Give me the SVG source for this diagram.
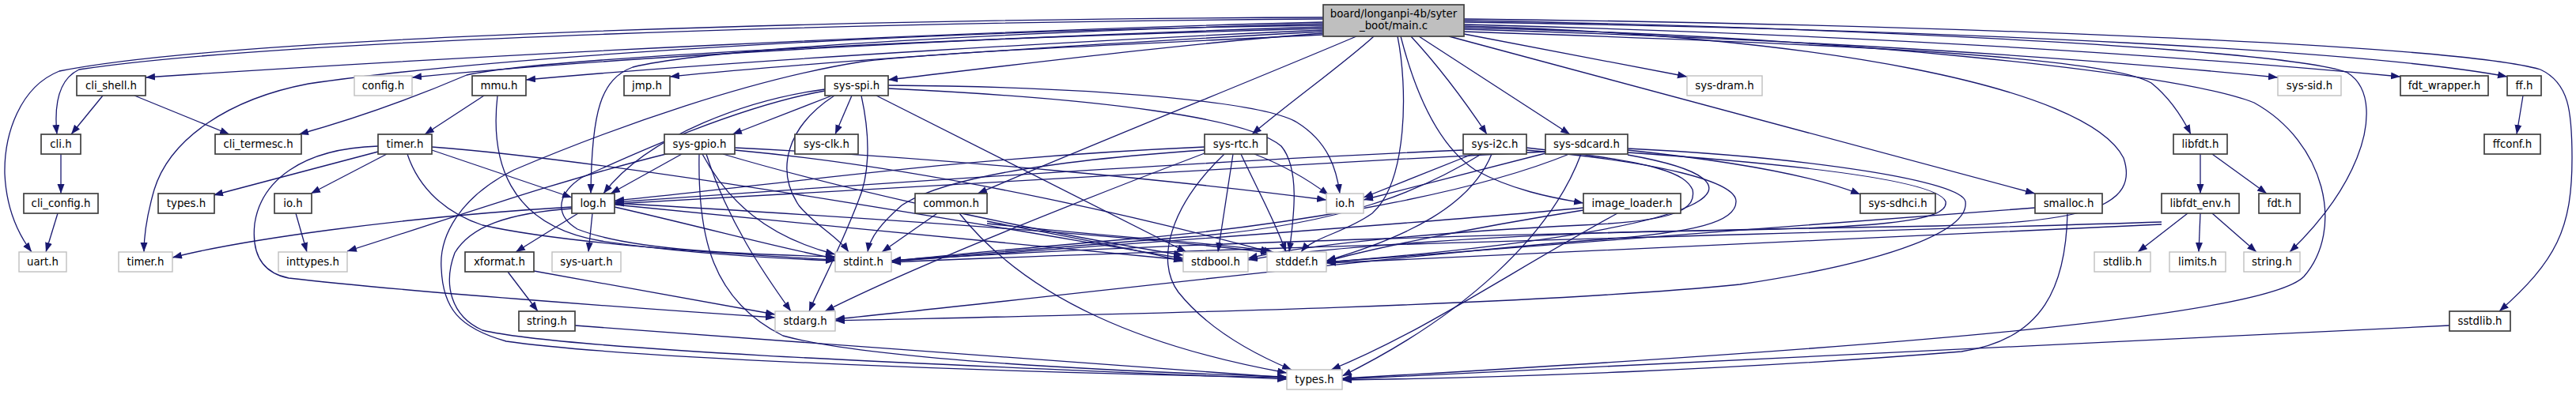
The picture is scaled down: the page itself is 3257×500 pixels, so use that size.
<svg xmlns="http://www.w3.org/2000/svg" width="3257" height="500" viewBox="0 0 3257 500">
<style>
.n rect{fill:#fff;stroke:#404040;stroke-width:1.7}
.g rect{fill:#fff;stroke:#bfbfbf;stroke-width:1.4}
.m rect{fill:#bfbfbf;stroke:#404040;stroke-width:1.7}
text{font-family:"DejaVu Sans",sans-serif;font-size:13.33px;text-anchor:middle;fill:#000}
#edges path{fill:none;stroke:#191970;stroke-width:1.3;marker-end:url(#a)}
</style>
<defs>
<marker id="a" markerUnits="userSpaceOnUse" markerWidth="13" markerHeight="10" refX="12" refY="4.5" orient="auto"><path d="M0,0 L12,4.5 L0,9 z" fill="#191970"/></marker>
</defs>
<rect width="3257" height="500" fill="#fff"/>
<g id="edges">
<path d="M1673,22 C1100,24 300,45 75,90 C25,110 5,170 6,220 C8,265 22,295 40,319"/>
<path d="M1673,24 C1100,28 350,50 100,88 C75,100 68,130 72,170"/>
<path d="M1673,28 C1200,40 600,70 184,98"/>
<path d="M1673,32 C1100,40 600,75 390,106 C290,125 215,175 195,240 C185,275 182,300 182,319"/>
<path d="M1673,34 C1300,45 800,70 521,98"/>
<path d="M1673,36 C1300,46 700,70 590,95 C520,125 450,150 378,170"/>
<path d="M1673,38 C1400,50 950,75 665,101"/>
<path d="M1673,40 C1450,52 1100,72 847,97"/>
<path d="M1673,30 C1300,40 900,60 800,85 C760,100 748,140 747,245"/>
<path d="M1673,42 C1500,55 1300,80 1123,101"/>
<path d="M1673,44 C1450,55 1200,65 1090,78 C950,100 780,160 650,215 C580,250 555,300 558,340 C560,390 580,415 640,432 C800,455 1300,472 1627,478"/>
<path d="M1715,46 C1600,95 1400,175 1236,245"/>
<path d="M1737,46 C1700,80 1630,130 1583,170"/>
<path d="M1767,46 C1780,110 1780,230 1735,270 C1700,295 1660,300 1645,319"/>
<path d="M1771,46 C1790,120 1820,185 1865,215 C1910,240 1960,250 2002,257"/>
<path d="M1784,46 C1820,85 1850,125 1880,170"/>
<path d="M1794,46 L1985,170"/>
<path d="M1832,46 L2573,245"/>
<path d="M1851,43 L2133,97"/>
<path d="M1851,40 C2300,55 2660,70 2720,105 C2745,125 2760,150 2770,170"/>
<path d="M1851,37 C2300,50 2650,75 2880,98"/>
<path d="M1851,35 C2300,45 2750,90 2850,130 C2940,180 2965,290 2913,350 C2860,405 2300,445 1697,479"/>
<path d="M1851,31 C2400,45 2800,75 3035,97"/>
<path d="M1851,28 C2500,38 3000,65 3170,97"/>
<path d="M1851,26 C2400,36 2900,65 2968,92 C3000,112 2996,160 2980,200 C2960,250 2925,290 2895,319"/>
<path d="M1851,24 C2400,30 3100,55 3212,88 C3248,105 3252,140 3252,200 C3252,290 3232,330 3160,394"/>
<path d="M1851,33 C2300,45 2640,110 2685,200 C2705,260 2640,282 2450,286 C2100,292 1500,305 1127,330"/>
<path d="M130,121 L90,170"/>
<path d="M170,121 L290,170"/>
<path d="M77,195 L77,245"/>
<path d="M73,270 L58,319"/>
<path d="M612,121 L537,170"/>
<path d="M629,121 C620,200 640,285 760,305 C860,320 980,327 1056,330"/>
<path d="M478,192 L270,247"/>
<path d="M489,195 L393,245"/>
<path d="M546,190 L723,250"/>
<path d="M478,185 C380,188 330,230 322,283 C318,320 330,345 365,352 C500,368 800,390 980,402"/>
<path d="M515,195 C530,240 565,270 610,285 C720,310 950,323 1056,329"/>
<path d="M546,186 C800,205 1300,295 1496,327"/>
<path d="M1052,121 L926,170"/>
<path d="M1077,121 L1056,170"/>
<path d="M1043,113 C950,125 820,170 763,245"/>
<path d="M1055,121 C995,160 980,215 1010,260 C1030,285 1060,300 1073,319"/>
<path d="M1089,121 C1102,180 1098,225 1085,255 C1060,320 1035,365 1023,394"/>
<path d="M1108,121 L1500,319"/>
<path d="M1123,112 C1400,125 1580,150 1620,185 C1645,215 1635,280 1630,319"/>
<path d="M1123,108 C1400,110 1600,130 1640,155 C1680,180 1690,215 1694,245"/>
<path d="M1043,115 C930,135 790,200 735,225 C705,245 700,272 730,290 C800,318 950,322 1056,325"/>
<path d="M862,195 L772,245"/>
<path d="M846,194 C700,230 560,280 439,318"/>
<path d="M888,195 C920,255 970,300 1056,322"/>
<path d="M893,195 C920,280 965,345 1000,394"/>
<path d="M884,195 C882,300 900,380 990,425 C1100,455 1400,470 1627,477"/>
<path d="M914,195 C1100,250 1350,300 1496,323"/>
<path d="M929,190 C1200,215 1480,285 1606,319"/>
<path d="M929,187 C1200,200 1500,230 1677,253"/>
<path d="M1523,186 C1200,200 950,238 777,254"/>
<path d="M1523,190 C1300,205 1185,230 1140,260 C1115,282 1100,300 1097,319"/>
<path d="M1559,195 L1540,319"/>
<path d="M1569,195 C1590,240 1612,280 1626,319"/>
<path d="M1586,195 C1625,210 1655,228 1680,247"/>
<path d="M1548,195 C1480,260 1460,330 1490,370 C1530,420 1590,450 1633,468"/>
<path d="M1523,194 C1350,260 1150,340 1043,394"/>
<path d="M1862,195 L1724,250"/>
<path d="M1873,195 C1800,240 1700,285 1500,300 C1300,315 1180,325 1127,330"/>
<path d="M1886,195 C1860,260 1780,300 1677,330"/>
<path d="M1850,190 C1500,205 1000,240 777,256"/>
<path d="M1930,187 C2100,205 2130,220 2140,240 C2145,265 2120,280 2000,285 C1800,295 1650,310 1578,327"/>
<path d="M1930,190 C2100,205 2195,230 2195,255 C2195,280 2150,295 2000,305 C1700,330 1300,380 1056,404"/>
<path d="M2058,190 C2200,205 2300,225 2352,246"/>
<path d="M1954,194 L1724,253"/>
<path d="M1954,192 C1500,215 1000,243 777,258"/>
<path d="M1984,195 C1850,250 1600,290 1400,305 C1250,318 1160,326 1127,331"/>
<path d="M1999,195 C1960,300 1850,400 1697,476"/>
<path d="M2058,193 C2300,210 2450,230 2460,255 C2465,280 2380,290 2100,293 C1900,297 1650,315 1578,329"/>
<path d="M2058,188 C2300,200 2480,230 2485,255 C2490,290 2400,330 2200,360 C1900,390 1300,400 1056,406"/>
<path d="M2058,196 C2250,230 2200,290 1677,332"/>
<path d="M2045,270 C1900,350 1800,420 1683,468"/>
<path d="M2002,263 C1800,283 1400,310 1127,331"/>
<path d="M2002,266 C1850,290 1720,318 1677,331"/>
<path d="M2614,270 C2612,360 2585,430 2480,445 C2200,468 1900,478 1697,481"/>
<path d="M2573,263 C2300,285 1900,312 1677,332"/>
<path d="M2782,195 L2782,245"/>
<path d="M2797,195 L2866,245"/>
<path d="M2766,270 L2703,319"/>
<path d="M2782,270 L2780,319"/>
<path d="M2797,270 L2853,319"/>
<path d="M2733,281 C2300,295 1500,315 1127,332"/>
<path d="M2733,284 C2400,300 1900,322 1677,333"/>
<path d="M3190,121 L3182,170"/>
<path d="M642,344 L680,394"/>
<path d="M675,343 L980,398"/>
<path d="M727,412 C1000,432 1400,462 1627,478"/>
<path d="M374,270 L388,319"/>
<path d="M723,262 C500,275 300,305 218,326"/>
<path d="M731,270 L652,319"/>
<path d="M749,270 L744,319"/>
<path d="M777,262 C900,290 1000,318 1056,327"/>
<path d="M777,259 C1000,282 1300,310 1496,329"/>
<path d="M777,257 C1100,276 1450,300 1606,320"/>
<path d="M723,264 C640,270 595,287 575,320 C560,360 570,400 610,418 C720,445 1300,466 1627,480"/>
<path d="M1185,270 L1115,319"/>
<path d="M1213,270 C1300,380 1450,440 1627,472"/>
<path d="M1248,280 C1350,300 1450,318 1496,331"/>
<path d="M1248,283 C1400,300 1550,308 1610,319"/>
<path d="M3097,412 C2700,430 2200,456 1697,480"/>
</g>
<g id="n_main" class="m"><rect x="1673" y="6" width="178" height="40"/><text x="1762" y="22">board/longanpi-4b/syter</text><text x="1762" y="37">_boot/main.c</text></g>
<g id="n_cli_shell" class="n"><rect x="97" y="96" width="87" height="25"/><text x="140.5" y="113">cli_shell.h</text></g>
<g id="n_config" class="g"><rect x="448" y="96" width="73" height="25"/><text x="484.5" y="113">config.h</text></g>
<g id="n_mmu" class="n"><rect x="597" y="96" width="68" height="25"/><text x="631" y="113">mmu.h</text></g>
<g id="n_jmp" class="n"><rect x="789" y="96" width="58" height="25"/><text x="818" y="113">jmp.h</text></g>
<g id="n_sys_spi" class="n"><rect x="1043" y="96" width="80" height="25"/><text x="1083" y="113">sys-spi.h</text></g>
<g id="n_sys_dram" class="g"><rect x="2133" y="96" width="95" height="25"/><text x="2180.5" y="113">sys-dram.h</text></g>
<g id="n_sys_sid" class="g"><rect x="2880" y="96" width="80" height="25"/><text x="2920" y="113">sys-sid.h</text></g>
<g id="n_fdt_wrapper" class="n"><rect x="3035" y="96" width="111" height="25"/><text x="3090.5" y="113">fdt_wrapper.h</text></g>
<g id="n_ff" class="n"><rect x="3170" y="96" width="43" height="25"/><text x="3191.5" y="113">ff.h</text></g>
<g id="n_cli" class="n"><rect x="52" y="170" width="50" height="25"/><text x="77" y="187">cli.h</text></g>
<g id="n_cli_termesc" class="n"><rect x="272" y="170" width="109" height="25"/><text x="326.5" y="187">cli_termesc.h</text></g>
<g id="n_timer" class="n"><rect x="478" y="170" width="68" height="25"/><text x="512" y="187">timer.h</text></g>
<g id="n_sys_gpio" class="n"><rect x="840" y="170" width="89" height="25"/><text x="884.5" y="187">sys-gpio.h</text></g>
<g id="n_sys_clk" class="n"><rect x="1005" y="170" width="80" height="25"/><text x="1045" y="187">sys-clk.h</text></g>
<g id="n_sys_rtc" class="n"><rect x="1523" y="170" width="79" height="25"/><text x="1562.5" y="187">sys-rtc.h</text></g>
<g id="n_sys_i2c" class="n"><rect x="1850" y="170" width="80" height="25"/><text x="1890" y="187">sys-i2c.h</text></g>
<g id="n_sys_sdcard" class="n"><rect x="1954" y="170" width="104" height="25"/><text x="2006" y="187">sys-sdcard.h</text></g>
<g id="n_libfdt" class="n"><rect x="2748" y="170" width="68" height="25"/><text x="2782" y="187">libfdt.h</text></g>
<g id="n_ffconf" class="n"><rect x="3141" y="170" width="71" height="25"/><text x="3176.5" y="187">ffconf.h</text></g>
<g id="n_cli_config" class="n"><rect x="30" y="245" width="94" height="25"/><text x="77" y="262">cli_config.h</text></g>
<g id="n_types_b" class="n"><rect x="200" y="245" width="71" height="25"/><text x="235.5" y="262">types.h</text></g>
<g id="n_io_b" class="n"><rect x="347" y="245" width="47" height="25"/><text x="370.5" y="262">io.h</text></g>
<g id="n_log" class="n"><rect x="723" y="245" width="54" height="25"/><text x="750" y="262">log.h</text></g>
<g id="n_common" class="n"><rect x="1157" y="245" width="91" height="25"/><text x="1202.5" y="262">common.h</text></g>
<g id="n_io_g" class="g"><rect x="1677" y="245" width="47" height="25"/><text x="1700.5" y="262">io.h</text></g>
<g id="n_image_loader" class="n"><rect x="2002" y="245" width="123" height="25"/><text x="2063.5" y="262">image_loader.h</text></g>
<g id="n_sys_sdhci" class="n"><rect x="2352" y="245" width="95" height="25"/><text x="2399.5" y="262">sys-sdhci.h</text></g>
<g id="n_smalloc" class="n"><rect x="2573" y="245" width="85" height="25"/><text x="2615.5" y="262">smalloc.h</text></g>
<g id="n_libfdt_env" class="n"><rect x="2733" y="245" width="98" height="25"/><text x="2782" y="262">libfdt_env.h</text></g>
<g id="n_fdt" class="n"><rect x="2856" y="245" width="52" height="25"/><text x="2882" y="262">fdt.h</text></g>
<g id="n_uart" class="g"><rect x="24" y="319" width="60" height="25"/><text x="54" y="336">uart.h</text></g>
<g id="n_timer_g" class="g"><rect x="150" y="319" width="68" height="25"/><text x="184" y="336">timer.h</text></g>
<g id="n_inttypes" class="g"><rect x="352" y="319" width="87" height="25"/><text x="395.5" y="336">inttypes.h</text></g>
<g id="n_xformat" class="n"><rect x="588" y="319" width="87" height="25"/><text x="631.5" y="336">xformat.h</text></g>
<g id="n_sys_uart" class="g"><rect x="698" y="319" width="87" height="25"/><text x="741.5" y="336">sys-uart.h</text></g>
<g id="n_stdint" class="g"><rect x="1056" y="319" width="71" height="25"/><text x="1091.5" y="336">stdint.h</text></g>
<g id="n_stdbool" class="g"><rect x="1496" y="319" width="82" height="25"/><text x="1537" y="336">stdbool.h</text></g>
<g id="n_stddef" class="g"><rect x="1602" y="319" width="75" height="25"/><text x="1639.5" y="336">stddef.h</text></g>
<g id="n_stdlib" class="g"><rect x="2648" y="319" width="71" height="25"/><text x="2683.5" y="336">stdlib.h</text></g>
<g id="n_limits" class="g"><rect x="2743" y="319" width="71" height="25"/><text x="2778.5" y="336">limits.h</text></g>
<g id="n_string_g" class="g"><rect x="2837" y="319" width="71" height="25"/><text x="2872.5" y="336">string.h</text></g>
<g id="n_string_b" class="n"><rect x="656" y="394" width="71" height="25"/><text x="691.5" y="411">string.h</text></g>
<g id="n_stdarg" class="g"><rect x="980" y="394" width="76" height="25"/><text x="1018" y="411">stdarg.h</text></g>
<g id="n_sstdlib" class="n"><rect x="3097" y="394" width="77" height="25"/><text x="3135.5" y="411">sstdlib.h</text></g>
<g id="n_types_g" class="g"><rect x="1627" y="468" width="70" height="25"/><text x="1662" y="485">types.h</text></g>
</svg>
